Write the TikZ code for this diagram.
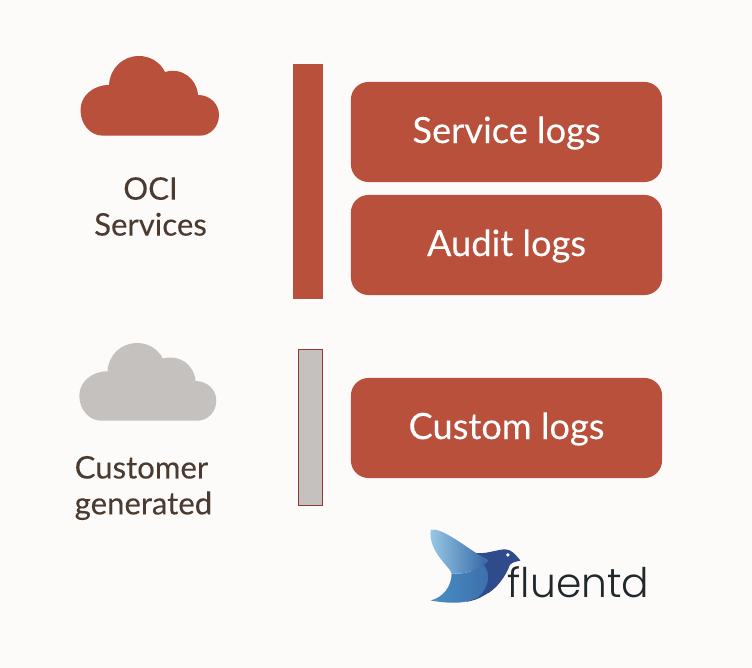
\documentclass[tikz,border=0pt]{standalone}
\usepackage{fontspec}
\setmainfont[FakeBold=0.12]{Lato}
\newfontfamily\logofont{Poppins Light}
\usetikzlibrary{positioning}

\definecolor{ocired}{HTML}{B9503C}
\definecolor{barline}{HTML}{8F3A2C}
\definecolor{cloudgray}{HTML}{C5C1BE}
\definecolor{labeltext}{HTML}{4A3A30}
\definecolor{pagebg}{HTML}{FCFBFA}
\definecolor{logotext}{HTML}{20282C}
\definecolor{birdlight}{HTML}{9BCBE8}
\definecolor{birdmid}{HTML}{4A8FC4}
\definecolor{birdblue}{HTML}{3B6EAA}
\definecolor{birddark}{HTML}{2F4B8C}

\tikzset{
  logbox/.style={fill=ocired, rounded corners=5pt, minimum width=3.11cm, minimum height=1cm,
    inner sep=0pt, text=white, text depth=1.3pt, font=\fontsize{10.3}{12}\selectfont},
  sidelabel/.style={text=labeltext, inner sep=0pt, font=\fontsize{8.85}{10.2}\selectfont},
  cloudicon/.pic={
    \fill[pic actions] (103,135.7) .. controls (90,135.7) and (80.5,124) .. (80.5,110)
      .. controls (80.5,96) and (93,85) .. (109,85)
      .. controls (110,68) and (123,56) .. (139,56)
      .. controls (150,56) and (160,62) .. (165,72)
      .. controls (182,67) and (197,79) .. (198,95)
      .. controls (210,95) and (219,104) .. (219,115)
      .. controls (219,127) and (210,135.7) .. (200,135.7) -- cycle;
  }
}

\begin{document}
\begin{tikzpicture}
[x=0.01cm, y=-0.01cm]

\fill[pagebg] (0,0) rectangle (752,668);

% clouds
\pic[fill=ocired] {cloudicon};
\pic[fill=cloudgray, shift={(-0.3,288.4)}, xscale=0.989, yscale=0.975] {cloudicon};

% side labels
\node[sidelabel, align=center] (oci) at (150.5,206.5) {OCI\\Services};
\node[sidelabel, align=left, anchor=west] (customer) at (74,488) {Customer\\generated};

% bars
\node[fill=ocired, minimum width=0.30cm, minimum height=2.35cm, inner sep=0pt] (ocibar) at (308,181.5) {};
\node[fill=cloudgray, draw=barline, line width=0.3pt, minimum width=0.245cm, minimum height=1.565cm, inner sep=0pt] (custbar) at (310.5,427.5) {};

% log boxes
\node[logbox] (service) at (506.5,132) {Service logs};
\node[logbox] (audit) at (506.5,245) {Audit logs};
\node[logbox] (custom) at (506.5,428) {Custom logs};

% fluentd logo
\begin{scope}[shift={(410,510)}, x=0.00333cm, y=-0.00333cm]
\fill[birddark] (190,128) .. controls (225,135) and (255,120) .. (285,118)
  .. controls (305,118) and (318,135) .. (332,152)
  .. controls (320,155) and (308,156) .. (300,165)
  .. controls (290,195) and (260,240) .. (225,255)
  .. controls (205,268) and (190,272) .. (170,276)
  .. controls (180,230) and (190,170) .. (190,128) -- cycle;
\shade[left color=birdmid, right color=birdblue] (62,272)
  .. controls (100,262) and (125,230) .. (125,190)
  .. controls (160,195) and (190,185) .. (222,165)
  .. controls (245,195) and (235,235) .. (205,262)
  .. controls (165,285) and (110,280) .. (62,272) -- cycle;
\shade[left color=birdlight, right color=birdblue] (62,60)
  .. controls (90,50) and (160,105) .. (200,130)
  .. controls (215,140) and (222,150) .. (222,165)
  .. controls (190,185) and (160,195) .. (125,190)
  .. controls (115,165) and (55,125) .. (62,60) -- cycle;
\fill[birdblue] (205,133) .. controls (218,140) and (228,145) .. (236,152)
  .. controls (232,157) and (228,161) .. (222,165)
  .. controls (222,152) and (215,141) .. (205,133) -- cycle;
\fill[white] (294,135) circle [radius=5.5];
\end{scope}
\node[inner sep=0pt, anchor=base west, text=logotext, font=\logofont\fontsize{11.6}{12}\selectfont] (fluentd) at (507,598) {fluentd};

\end{tikzpicture}
\end{document}
